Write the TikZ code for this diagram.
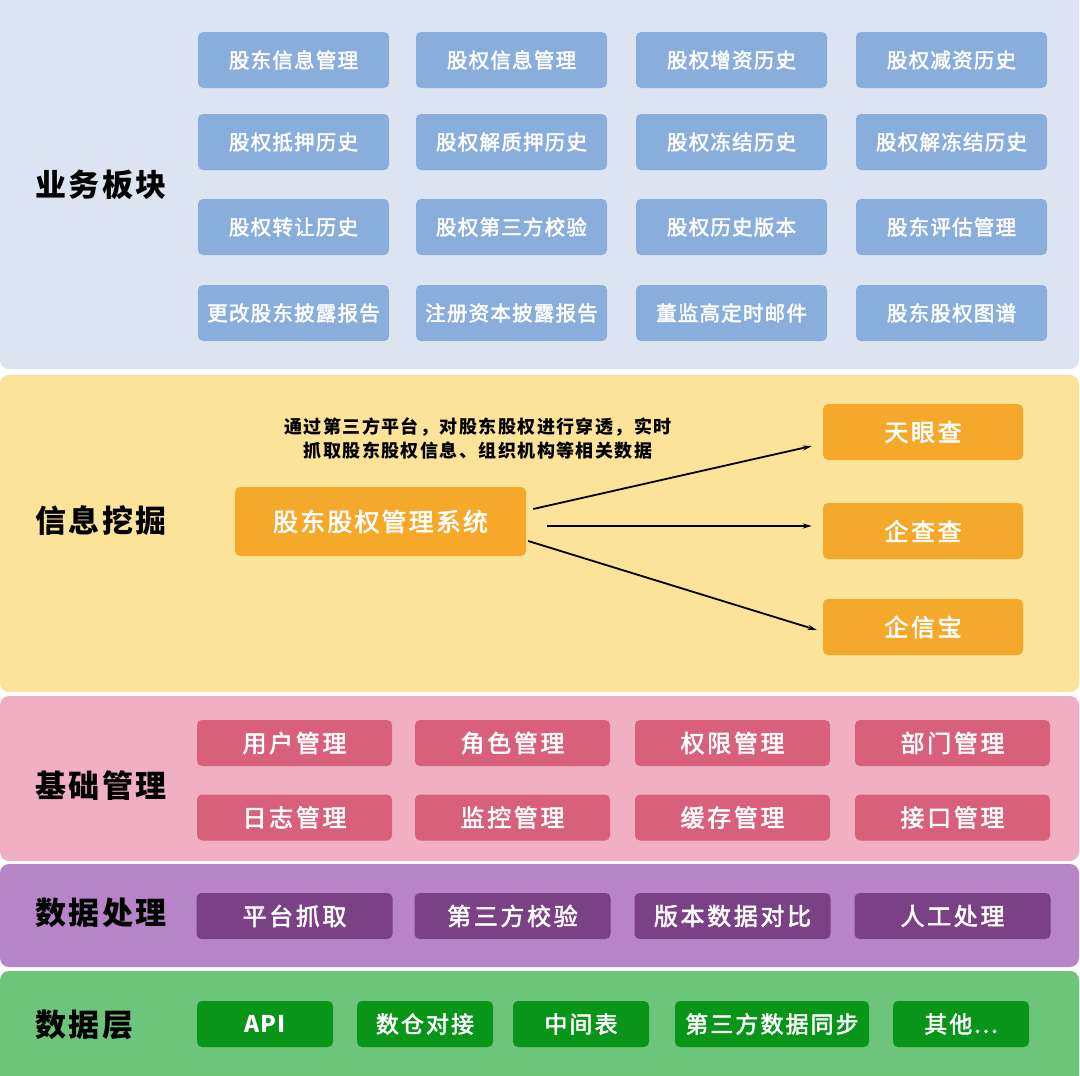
\documentclass[tikz,border=0pt]{standalone}
\usepackage{fontspec}
\setmainfont{Noto Sans CJK SC}
\newfontfamily\boxfont[FakeBold=2.2]{Noto Sans CJK SC}
\usetikzlibrary{arrows.meta,calc}
\definecolor{bandA}{HTML}{DCE3F1}
\definecolor{boxA}{HTML}{8AAEDC}
\definecolor{bandB}{HTML}{FCE39A}
\definecolor{boxB}{HTML}{F5A82A}
\definecolor{bandC}{HTML}{F0AFC3}
\definecolor{boxC}{HTML}{D9607A}
\definecolor{bandD}{HTML}{B784C7}
\definecolor{boxD}{HTML}{7B4187}
\definecolor{bandE}{HTML}{6CC57B}
\definecolor{boxE}{HTML}{08951A}
\tikzset{
  band/.style={rounded corners=9pt},
  cell/.style={rounded corners=5pt, text=white, inner sep=0pt, align=center},
  cellA/.style={cell, fill=boxA, minimum width=191pt, minimum height=56pt, font=\fontsize{20.5}{24}\boxfont\addfontfeatures{LetterSpace=6}},
  cellB/.style={cell, fill=boxB, minimum width=200pt, minimum height=56pt, font=\fontsize{24}{28}\boxfont\addfontfeatures{LetterSpace=11}},
  cellC/.style={cell, fill=boxC, minimum width=195pt, minimum height=46pt, font=\fontsize{24}{28}\boxfont\addfontfeatures{LetterSpace=11}},
  cellD/.style={cell, fill=boxD, minimum width=196pt, minimum height=46pt, font=\fontsize{24}{28}\boxfont\addfontfeatures{LetterSpace=11}},
  cellE/.style={cell, fill=boxE, minimum width=136pt, minimum height=46pt, font=\fontsize{23}{26}\boxfont\addfontfeatures{LetterSpace=9}},
  title/.style={anchor=west, inner sep=0pt, text=black, font=\fontsize{31}{36}\selectfont\bfseries\addfontfeatures{LetterSpace=8}},
  arr/.style={line width=1.8pt, -{Stealth[length=9pt,width=5pt]}}
}
\begin{document}
\begin{tikzpicture}[x=1pt,y=-1pt]
\useasboundingbox (0,0) rectangle (1080,1076);
\fill[white] (0,0) rectangle (1080,1076);
% bands
\fill[bandA,band] (0,-10) rectangle (1079,369);
\fill[bandB,band] (0,375) rectangle (1079,692);
\fill[bandC,band] (0,696) rectangle (1079,861);
\fill[bandD,band] (0,864) rectangle (1079,967);
\fill[bandE,band] (0,971) rectangle (1079,1086);
% titles
\node[title] (t1) at (35,185) {业务板块};
\node[title] (t2) at (35,521) {信息挖掘};
\node[title] (t3) at (35,786) {基础管理};
\node[title] (t4) at (35,913) {数据处理};
\node[title] (t5) at (35,1025) {数据层};
% band 1
\node[cellA] (a11) at (293.5,60) {股东信息管理};
\node[cellA] (a12) at (511.5,60) {股权信息管理};
\node[cellA] (a13) at (731.5,60) {股权增资历史};
\node[cellA] (a14) at (951.5,60) {股权减资历史};
\node[cellA] (a21) at (293.5,142) {股权抵押历史};
\node[cellA] (a22) at (511.5,142) {股权解质押历史};
\node[cellA] (a23) at (731.5,142) {股权冻结历史};
\node[cellA] (a24) at (951.5,142) {股权解冻结历史};
\node[cellA] (a31) at (293.5,227) {股权转让历史};
\node[cellA] (a32) at (511.5,227) {股权第三方校验};
\node[cellA] (a33) at (731.5,227) {股权历史版本};
\node[cellA] (a34) at (951.5,227) {股东评估管理};
\node[cellA] (a41) at (293.5,313) {更改股东披露报告};
\node[cellA] (a42) at (511.5,313) {注册资本披露报告};
\node[cellA] (a43) at (731.5,313) {董监高定时邮件};
\node[cellA] (a44) at (951.5,313) {股东股权图谱};
% band 2
\node[cellB, minimum width=291pt, minimum height=69pt, font=\fontsize{25}{30}\boxfont\addfontfeatures{LetterSpace=8.5}] (sys) at (380.5,521.5) {股东股权管理系统};
\node[cellB] (tyc) at (923,432) {天眼查};
\node[cellB] (qcc) at (923,531) {企查查};
\node[cellB] (qxb) at (923,627) {企信宝};
\node[align=center, inner sep=0pt, font=\fontsize{18}{24}\selectfont\bfseries\addfontfeatures{LetterSpace=8}] (note) at (478,439) {通过第三方平台，对股东股权进行穿透，实时\\抓取股东股权信息、组织机构等相关数据};
\coordinate (s1) at ($(sys.east)+(7,-12.5)$);
\coordinate (s2) at ($(sys.east)+(21,4.5)$);
\coordinate (s3) at ($(sys.east)+(2,19.5)$);
\coordinate (e1) at ($(tyc.west)+(-11,14)$);
\coordinate (e2) at ($(qcc.west)+(-11,-5)$);
\coordinate (e3) at ($(qxb.west)+(-6,3)$);
\draw[arr] (s1) -- (e1);
\draw[arr] (s2) -- (e2);
\draw[arr] (s3) -- (e3);
% band 3
\node[cellC] (c11) at (294.5,743) {用户管理};
\node[cellC] (c12) at (512.5,743) {角色管理};
\node[cellC] (c13) at (732.5,743) {权限管理};
\node[cellC] (c14) at (952.5,743) {部门管理};
\node[cellC] (c21) at (294.5,817.5) {日志管理};
\node[cellC] (c22) at (512.5,817.5) {监控管理};
\node[cellC] (c23) at (732.5,817.5) {缓存管理};
\node[cellC] (c24) at (952.5,817.5) {接口管理};
% band 4
\node[cellD] (d1) at (294.5,916) {平台抓取};
\node[cellD] (d2) at (512.5,916) {第三方校验};
\node[cellD] (d3) at (732.5,916) {版本数据对比};
\node[cellD] (d4) at (952.5,916) {人工处理};
% band 5
\node[cellE, font=\fontsize{23}{26}\selectfont\bfseries\addfontfeatures{LetterSpace=4}] (e1n) at (265,1024) {API};
\node[cellE] (e2n) at (425,1024) {数仓对接};
\node[cellE] (e3n) at (581,1024) {中间表};
\node[cellE, minimum width=194pt] (e4n) at (772,1024) {第三方数据同步};
\node[cellE] (e5n) at (961,1024) {其他...};
\end{tikzpicture}
\end{document}
